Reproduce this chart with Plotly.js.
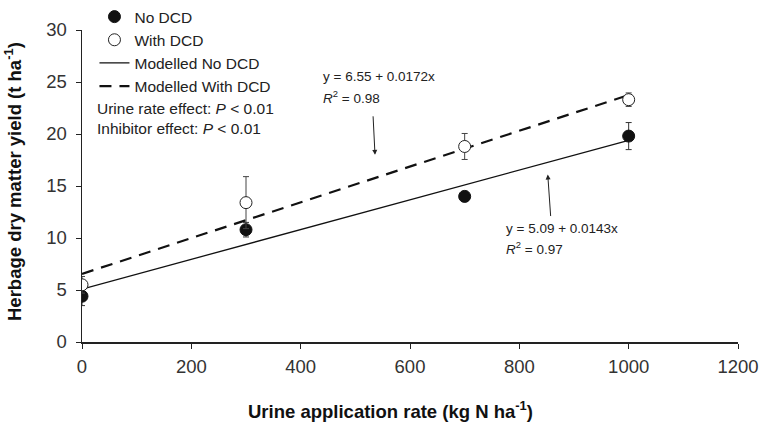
<!DOCTYPE html>
<html><head><meta charset="utf-8">
<script src="https://cdn.plot.ly/plotly-3.0.1.min.js"></script>
<style>html,body{margin:0;padding:0;background:#fff}#chart{width:779px;height:424px}</style>
</head><body><div id="chart"></div>
<script>
const rates = [0, 300, 700, 1000];
const noDCD = [4.4, 10.8, 14.0, 19.8];
const noDCDerr = [0.9, 0.7, 0.5, 1.3];
const withDCD = [5.5, 13.4, 18.8, 23.3];
const withDCDerr = [0.8, 2.5, 1.25, 0.65];
const modelX = [0, 1000];
const modelNo = [5.09, 19.39];
const modelWith = [6.55, 23.75];
const xTicks = [0, 200, 400, 600, 800, 1000, 1200];
const yTicks = [0, 5, 10, 15, 20, 25, 30];

const font = "Liberation Sans, Arial, sans-serif";
const traces = [
  {x: modelX, y: modelNo, type: 'scatter', mode: 'lines', name: 'Modelled No DCD', legendrank: 3,
   line: {color: '#111', width: 1.3}},
  {x: modelX, y: modelWith, type: 'scatter', mode: 'lines', name: 'Modelled With DCD', legendrank: 4,
   line: {color: '#111', width: 2.2, dash: '12px,8px'}},
  {x: rates, y: noDCD, type: 'scatter', mode: 'markers', name: 'No DCD', legendrank: 1,
   marker: {color: '#111', size: 12, line: {color: '#111', width: 1}},
   error_y: {type: 'data', array: noDCDerr, visible: true, color: '#333', thickness: 1, width: 3}},
  {x: rates, y: withDCD, type: 'scatter', mode: 'markers', name: 'With DCD', legendrank: 2,
   marker: {color: '#fff', size: 12, line: {color: '#222', width: 1}},
   error_y: {type: 'data', array: withDCDerr, visible: true, color: '#444', thickness: 1, width: 3}}
];

const eqFont = {size: 13.5, color: '#222'};
const layout = {
  width: 779, height: 424,
  margin: {l: 82, r: 41, t: 30, b: 82, autoexpand: false},
  paper_bgcolor: '#fff', plot_bgcolor: '#fff',
  font: {family: font, color: '#222'},
  showlegend: true,
  legend: {x: 0.019, y: 1.096, xanchor: 'left', yanchor: 'top', bgcolor: 'rgba(0,0,0,0)',
           font: {size: 15.5, color: '#222'}, traceorder: 'normal', itemwidth: 30, tracegroupgap: 0},
  xaxis: {range: [0, 1200], tickvals: xTicks, ticks: 'outside', ticklen: 5, tickcolor: '#222',
          showline: true, linecolor: '#222', linewidth: 1.5, showgrid: false, zeroline: false,
          ticklabelstandoff: 2, tickfont: {size: 18.5, color: '#333'}},
  yaxis: {range: [0, 30], tickvals: yTicks, ticks: 'outside', ticklen: 5, tickcolor: '#222',
          showline: true, linecolor: '#222', linewidth: 1.5, showgrid: false, zeroline: false,
          ticklabelstandoff: 5, tickfont: {size: 18.5, color: '#333'}},
  annotations: [
    {xref: 'paper', yref: 'paper', x: (390 - 82) / 656, y: -(410 - 342) / 312, xanchor: 'center', yanchor: 'middle', showarrow: false,
     text: '<b>Urine application rate (kg N ha<sup>-1</sup>)</b>', font: {size: 18.5, color: '#111'}},
    {xref: 'paper', yref: 'paper', x: -(82 - 13) / 656, y: (342 - 182) / 312, xanchor: 'center', yanchor: 'middle', showarrow: false,
     textangle: -90, text: '<b>Herbage dry matter yield (t ha<sup>-1</sup>)</b>', font: {size: 18.5, color: '#111'}},
    {xref: 'paper', yref: 'paper', x: 0.02, y: 0.75, xanchor: 'left', yanchor: 'middle', showarrow: false,
     text: 'Urine rate effect: <i>P</i> < 0.01', font: {size: 15.5, color: '#222'}},
    {xref: 'paper', yref: 'paper', x: 0.02, y: 0.683, xanchor: 'left', yanchor: 'middle', showarrow: false,
     text: 'Inhibitor effect: <i>P</i> < 0.01', font: {size: 15.5, color: '#222'}},
    {xref: 'x', yref: 'y', x: 438, y: 25.5, xanchor: 'left', yanchor: 'middle', showarrow: false,
     text: 'y = 6.55 + 0.0172x', font: eqFont},
    {xref: 'x', yref: 'y', x: 438, y: 23.6, xanchor: 'left', yanchor: 'middle', showarrow: false,
     text: '<i>R</i><sup>2</sup> = 0.98', font: eqFont},
    {xref: 'x', yref: 'y', x: 772, y: 10.95, xanchor: 'left', yanchor: 'middle', showarrow: false,
     text: 'y = 5.09 + 0.0143x', font: eqFont},
    {xref: 'x', yref: 'y', x: 772, y: 9.05, xanchor: 'left', yanchor: 'middle', showarrow: false,
     text: '<i>R</i><sup>2</sup> = 0.97', font: eqFont},
    {xref: 'x', yref: 'y', x: 536, y: 18.0, text: '', showarrow: true, ax: -2, ay: -40,
     arrowhead: 2, arrowsize: 1, arrowwidth: 1, arrowcolor: '#222'},
    {xref: 'x', yref: 'y', x: 852, y: 16.1, text: '', showarrow: true, ax: 3, ay: 43,
     arrowhead: 2, arrowsize: 1, arrowwidth: 1, arrowcolor: '#222'}
  ]
};
Plotly.newPlot('chart', traces, layout, {displayModeBar: false, staticPlot: true});
</script></body></html>
